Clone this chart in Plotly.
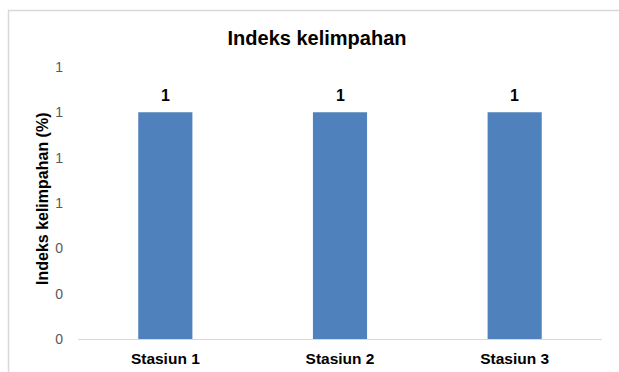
import plotly.graph_objects as go

categories = ["Stasiun 1", "Stasiun 2", "Stasiun 3"]
values = [1, 1, 1]
y_tick_vals = [0, 0.2, 0.4, 0.6, 0.8, 1.0, 1.2]
chart_title = "Indeks kelimpahan"
y_title = "Indeks kelimpahan (%)"

W, H = 619, 372
L, R, T, B = 78, 17, 67, 33
pw = W - L - R
ph = H - T - B

def px_x(x):
    return (x - L) / pw

def px_y(y):
    return (H - B - y) / ph

FONT = "Liberation Sans, Arial, sans-serif"

fig = go.Figure(go.Bar(
    x=categories, y=values,
    marker=dict(color="#4F81BD", line=dict(width=0)),
    width=0.31,
))

label_annotations = [
    dict(x=c, y=v, xref="x", yref="y", text=f"{v:.0f}", showarrow=False,
         xanchor="center", yanchor="bottom", yshift=6,
         font=dict(family=FONT, size=16, color="#000000", weight="bold"))
    for c, v in zip(categories, values)
]

fig.update_layout(
    width=W, height=H,
    margin=dict(l=L, r=R, t=T, b=B, pad=0, autoexpand=False),
    paper_bgcolor="white", plot_bgcolor="white",
    showlegend=False,
    font=dict(family=FONT),
    title=dict(text=chart_title, x=317 / W, xref="container", xanchor="center",
               y=1 - 37.5 / H, yref="container", yanchor="middle",
               font=dict(family=FONT, size=20, color="#000000", weight="bold")),
    xaxis=dict(showline=True, linecolor="#D9D9D9", linewidth=1, ticks="",
               showgrid=False, zeroline=False, ticklabelstandoff=5, automargin=False,
               tickfont=dict(family=FONT, size=15.5, color="#000000", weight="bold")),
    yaxis=dict(range=[0, 1.2], tickvals=y_tick_vals, tickformat=".0f",
               showline=False, showgrid=False, zeroline=False, ticks="",
               ticklabelstandoff=14, automargin=False,
               tickfont=dict(family=FONT, size=14, color="#595959")),
    shapes=[dict(type="rect", xref="paper", yref="paper",
                 x0=px_x(8.5), x1=px_x(640), y0=px_y(400), y1=px_y(10.5),
                 line=dict(color="#D9D9D9", width=1.5), fillcolor="rgba(0,0,0,0)",
                 layer="below")],
    annotations=label_annotations + [
        dict(text=y_title, textangle=-90, xref="paper", yref="paper",
             x=px_x(42), y=px_y(199), xanchor="center", yanchor="middle",
             showarrow=False,
             font=dict(family=FONT, size=16, color="#000000", weight="bold"))],
)

fig.write_html("out.html")
